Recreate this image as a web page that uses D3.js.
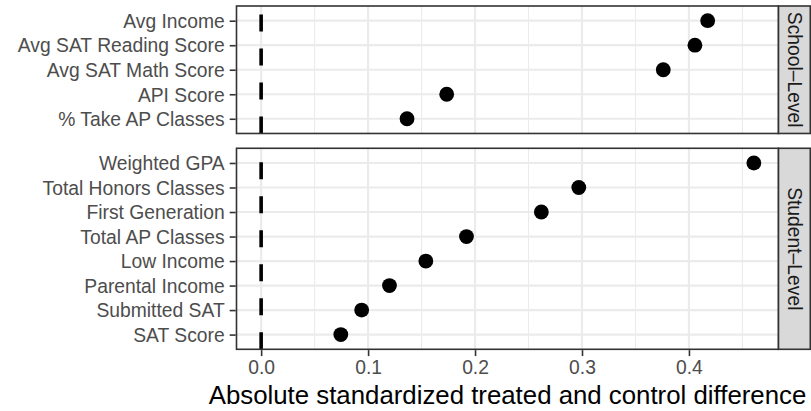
<!DOCTYPE html>
<html>
<head>
<meta charset="utf-8">
<script src="https://cdn.jsdelivr.net/npm/d3@7"></script>
<style>
  html, body { margin: 0; padding: 0; background: #ffffff; }
  svg { display: block; }
  text { font-family: "Liberation Sans", Arial, Helvetica, sans-serif; }
</style>
</head>
<body>
<svg id="chart" width="811" height="411"></svg>
<script>
// ---- data ----
const schoolCats = ["Avg Income", "Avg SAT Reading Score", "Avg SAT Math Score", "API Score", "% Take AP Classes"];
const schoolVals = [0.4175, 0.4056, 0.376, 0.1735, 0.1364];
const studentCats = ["Weighted GPA", "Total Honors Classes", "First Generation", "Total AP Classes", "Low Income", "Parental Income", "Submitted SAT", "SAT Score"];
const studentVals = [0.4607, 0.297, 0.262, 0.192, 0.154, 0.12, 0.094, 0.0745];
const facetLabels = ["School\u2013Level", "Student\u2013Level"];
const xTicks = [0, 0.1, 0.2, 0.3, 0.4];
const xTickLabels = ["0.0", "0.1", "0.2", "0.3", "0.4"];
const xMinorTicks = [0.05, 0.15, 0.25, 0.35, 0.45];
const refLine = 0;
const xTitle = "Absolute standardized treated and control difference";

// ---- layout ----
const W = 811, H = 411;
const panelL = 236.5, panelR = 778.5;
const topY = 6, bottomY = 349.3, gap = 14.8;
const stripW = 31.8;
const facets = [
  { label: facetLabels[0], cats: schoolCats, vals: schoolVals },
  { label: facetLabels[1], cats: studentCats, vals: studentVals }
];
const units = facets.map(f => f.cats.length - 1 + 1.2);
const unit = (bottomY - topY - gap) / d3.sum(units);
let yCursor = topY;
facets.forEach((f, i) => {
  f.y0 = yCursor;
  f.h = units[i] * unit;
  yCursor += f.h + gap;
});

const allVals = schoolVals.concat(studentVals, [refLine]);
const dmin = d3.min(allVals), dmax = d3.max(allVals);
const ex = (dmax - dmin) * 0.05;
const x = d3.scaleLinear().domain([dmin - ex, dmax + ex]).range([panelL, panelR]);

const svg = d3.select("#chart");
svg.append("rect").attr("width", W).attr("height", H).attr("fill", "#ffffff");

const gridCol = "#EBEBEB";
const borderCol = "#333333";
const tickTextCol = "#4D4D4D";
const axisFont = 19.3;

facets.forEach(f => {
  const y = d3.scalePoint().domain(f.cats).range([f.y0, f.y0 + f.h]).padding(0.6);
  const g = svg.append("g");

  g.append("rect").attr("x", panelL).attr("y", f.y0).attr("width", panelR - panelL).attr("height", f.h).attr("fill", "#ffffff");

  g.selectAll(".minor").data(xMinorTicks.filter(v => x(v) < panelR)).join("line")
    .attr("x1", d => x(d)).attr("x2", d => x(d))
    .attr("y1", f.y0).attr("y2", f.y0 + f.h)
    .attr("stroke", gridCol).attr("stroke-width", 1.1);
  g.selectAll(".majorx").data(xTicks).join("line")
    .attr("x1", d => x(d)).attr("x2", d => x(d))
    .attr("y1", f.y0).attr("y2", f.y0 + f.h)
    .attr("stroke", gridCol).attr("stroke-width", 2.2);
  g.selectAll(".majory").data(f.cats).join("line")
    .attr("x1", panelL).attr("x2", panelR)
    .attr("y1", d => y(d)).attr("y2", d => y(d))
    .attr("stroke", gridCol).attr("stroke-width", 2.2);

  g.append("line")
    .attr("x1", x(refLine)).attr("x2", x(refLine))
    .attr("y1", f.y0 + f.h).attr("y2", f.y0)
    .attr("stroke", "#000").attr("stroke-width", 3.6)
    .attr("stroke-dasharray", "17 17");

  g.selectAll("circle").data(f.cats.map((c, i) => ({ c, v: f.vals[i] }))).join("circle")
    .attr("cx", d => x(d.v)).attr("cy", d => y(d.c))
    .attr("r", 7.4).attr("fill", "#000");

  g.append("rect").attr("x", panelL).attr("y", f.y0).attr("width", panelR - panelL).attr("height", f.h)
    .attr("fill", "none").attr("stroke", borderCol).attr("stroke-width", 1.6);

  const ya = svg.append("g").attr("transform", `translate(${panelL - 0.8},0)`)
    .call(d3.axisLeft(y).tickSize(6).tickPadding(5));
  ya.select(".domain").remove();
  ya.selectAll(".tick line").attr("stroke", borderCol).attr("stroke-width", 1.6);
  ya.selectAll(".tick text").attr("fill", tickTextCol).attr("font-size", axisFont)
    .attr("font-family", '"Liberation Sans", Arial, sans-serif').attr("dy", "0.35em");

  svg.append("rect").attr("x", panelR).attr("y", f.y0).attr("width", stripW).attr("height", f.h)
    .attr("fill", "#D9D9D9").attr("stroke", borderCol).attr("stroke-width", 1.6);
  svg.append("text")
    .attr("transform", `translate(${panelR + stripW / 2 + 0.5},${f.y0 + f.h / 2}) rotate(90)`)
    .attr("text-anchor", "middle").attr("dominant-baseline", "central")
    .attr("fill", "#1A1A1A").attr("font-size", axisFont)
    .text(f.label);
});

const last = facets[facets.length - 1];
const xa = svg.append("g").attr("transform", `translate(0,${last.y0 + last.h + 0.8})`)
  .call(d3.axisBottom(x).tickValues(xTicks).tickFormat((d, i) => xTickLabels[i]).tickSize(6).tickPadding(4));
xa.select(".domain").remove();
xa.selectAll(".tick line").attr("stroke", borderCol).attr("stroke-width", 1.6);
xa.selectAll(".tick text").attr("fill", tickTextCol).attr("font-size", axisFont)
  .attr("font-family", '"Liberation Sans", Arial, sans-serif');

svg.append("text")
  .attr("x", (panelL + panelR) / 2).attr("y", 404)
  .attr("text-anchor", "middle").attr("fill", "#000").attr("font-size", 25.8)
  .text(xTitle);
</script>
</body>
</html>
